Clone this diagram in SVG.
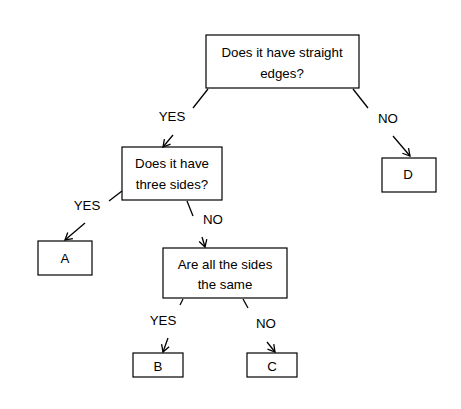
<svg xmlns="http://www.w3.org/2000/svg" width="461" height="409" viewBox="0 0 461 409">
<defs>
<marker id="arr" markerWidth="10" markerHeight="10" refX="9" refY="5" orient="auto" markerUnits="userSpaceOnUse">
<polyline points="2,1 9,5 2,9" fill="none" stroke="#000" stroke-width="1.3"/>
</marker>
<style>
rect{fill:#fff;stroke:#000;stroke-width:1.2}
text{font-family:"Liberation Sans",Arial,sans-serif;font-size:13.3px;fill:#000;text-anchor:middle}
.c line{stroke:#000;stroke-width:1.3}
.a{marker-end:url(#arr)}
</style>
</defs>
<rect x="0" y="0" width="461" height="409" style="fill:#fff;stroke:none"/>
<g id="q1"><rect x="206" y="35" width="153" height="53"/><text x="282" y="57">Does it have straight</text><text x="282" y="78">edges?</text></g>
<g id="q2"><rect x="122" y="147" width="100" height="53"/><text x="172" y="168">Does it have</text><text x="172" y="189">three sides?</text></g>
<g id="q3"><rect x="163" y="248" width="124" height="50"/><text x="225" y="269">Are all the sides</text><text x="225" y="289">the same</text></g>
<g id="nA"><rect x="38" y="241" width="54" height="34"/><text x="65" y="263">A</text></g>
<g id="nB"><rect x="133" y="353" width="50" height="24"/><text x="158" y="371">B</text></g>
<g id="nC"><rect x="247" y="353" width="50" height="24"/><text x="272" y="371">C</text></g>
<g id="nD"><rect x="382" y="158" width="54" height="34"/><text x="408" y="179">D</text></g>
<g class="c" id="connectors">
<line x1="208" y1="89" x2="193" y2="108"/>
<line class="a" x1="173" y1="135" x2="163" y2="147"/>
<line x1="353" y1="89" x2="368" y2="108"/>
<line class="a" x1="393" y1="136" x2="410" y2="156"/>
<line x1="122" y1="191" x2="109" y2="201"/>
<line class="a" x1="85" y1="223" x2="65" y2="240"/>
<line x1="187" y1="201" x2="193" y2="216"/>
<line class="a" x1="202" y1="237" x2="205" y2="247"/>
<line x1="183" y1="299" x2="180" y2="305"/>
<line class="a" x1="168" y1="338" x2="163" y2="352"/>
<line x1="243" y1="299" x2="248" y2="308"/>
<line class="a" x1="267" y1="342" x2="275" y2="352"/>
<text x="172" y="121">YES</text>
<text x="388" y="123">NO</text>
<text x="87" y="210">YES</text>
<text x="213" y="224">NO</text>
<text x="163" y="325">YES</text>
<text x="266" y="328">NO</text>
</g>
</svg>
